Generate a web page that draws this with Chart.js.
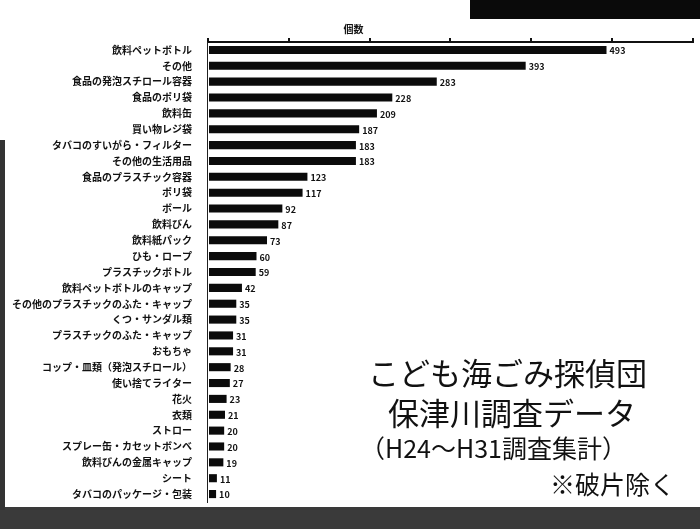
<!DOCTYPE html>
<html>
<head>
<meta charset="utf-8">
<script src="https://cdn.jsdelivr.net/npm/chart.js@4.4.1/dist/chart.umd.min.js"></script>
<style>
  html, body { margin: 0; padding: 0; background: #fff; }
  #wrap { position: relative; width: 700px; height: 529px; overflow: hidden; background: #fff; }
  canvas { position: absolute; left: 0; top: 0; }
  .note { position: absolute; font-family: "Noto Sans CJK JP", "Noto Sans", sans-serif; color: #111; white-space: nowrap; }
  .band { position: absolute; background: #222; }
</style>
</head>
<body>
<div id="wrap">
  <canvas id="chart" width="700" height="529"></canvas>
  <div class="band" style="left:470px;top:0;width:230px;height:19px;background:#0a0a0a"></div>
  <div class="band" style="left:0;top:507px;width:700px;height:22px;background:#3a3a3a"></div>
  <div class="band" style="left:0;top:140px;width:5px;height:370px;background:#333"></div>
  <div class="note" style="left:368px;top:349px;font-size:31px;">こども海ごみ探偵団</div>
  <div class="note" style="left:388px;top:389px;font-size:31px;">保津川調査データ</div>
  <div class="note" style="left:360px;top:429px;font-size:25px;">（H24～H31調査集計）</div>
  <div class="note" style="left:550px;top:465px;font-size:25px;">※破片除く</div>
</div>
<script>
// 保津川調査データ（H24～H31）品目別個数
const categories = [
  "飲料ペットボトル", "その他", "食品の発泡スチロール容器", "食品のポリ袋", "飲料缶",
  "買い物レジ袋", "タバコのすいがら・フィルター", "その他の生活用品", "食品のプラスチック容器", "ポリ袋",
  "ボール", "飲料びん", "飲料紙パック", "ひも・ロープ", "プラスチックボトル",
  "飲料ペットボトルのキャップ", "その他のプラスチックのふた・キャップ", "くつ・サンダル類", "プラスチックのふた・キャップ", "おもちゃ",
  "コップ・皿類（発泡スチロール）", "使い捨てライター", "花火", "衣類", "ストロー",
  "スプレー缶・カセットボンベ", "飲料びんの金属キャップ", "シート", "タバコのパッケージ・包装"
];
const counts = [
  493, 393, 283, 228, 209,
  187, 183, 183, 123, 117,
  92, 87, 73, 60, 59,
  42, 35, 35, 31, 31,
  28, 27, 23, 21, 20,
  20, 19, 11, 10
];
const axisTitle = "個数";
const axisMax = 600;
const axisStep = 100;

// value labels at the end of each bar, and the axis title
const labelPlugin = {
  id: 'valueLabels',
  afterDatasetsDraw(chart) {
    const ctx = chart.ctx;
    const meta = chart.getDatasetMeta(0);
    ctx.save();
    ctx.fillStyle = '#111';
    ctx.font = 'bold 9px "Noto Sans CJK JP", "DejaVu Sans", sans-serif';
    ctx.textBaseline = 'middle';
    meta.data.forEach((bar, i) => {
      ctx.fillText(counts[i], bar.x + 3, bar.y + 1);
    });
    const xs = chart.scales.x;
    ctx.font = 'bold 10px "Noto Sans CJK JP", sans-serif';
    ctx.textAlign = 'center';
    ctx.fillText(axisTitle, xs.getPixelForValue(180), 29);
    ctx.restore();
  }
};

new Chart(document.getElementById('chart').getContext('2d'), {
  type: 'bar',
  data: {
    labels: categories,
    datasets: [{
      data: counts,
      backgroundColor: '#0b0b0b',
      borderWidth: 0,
      barPercentage: 0.85,
      categoryPercentage: 0.6
    }]
  },
  options: {
    indexAxis: 'y',
    responsive: false,
    animation: false,
    layout: { padding: { top: 38, right: 7, bottom: 27, left: 4 } },
    plugins: { legend: { display: false }, tooltip: { enabled: false } },
    scales: {
      x: {
        position: 'top',
        min: 0,
        max: axisMax,
        ticks: { stepSize: axisStep, display: false },
        grid: { drawOnChartArea: false, drawTicks: true, tickLength: 4, color: '#111', lineWidth: 2 },
        border: { display: true, color: '#111', width: 2 }
      },
      y: {
        ticks: {
          color: '#111',
          autoSkip: false,
          padding: 8,
          font: { family: '"Noto Sans CJK JP", sans-serif', size: 10, weight: 'bold' }
        },
        grid: { display: false },
        border: { display: true, color: '#222', width: 1 }
      }
    }
  },
  plugins: [labelPlugin]
});
</script>
</body>
</html>
